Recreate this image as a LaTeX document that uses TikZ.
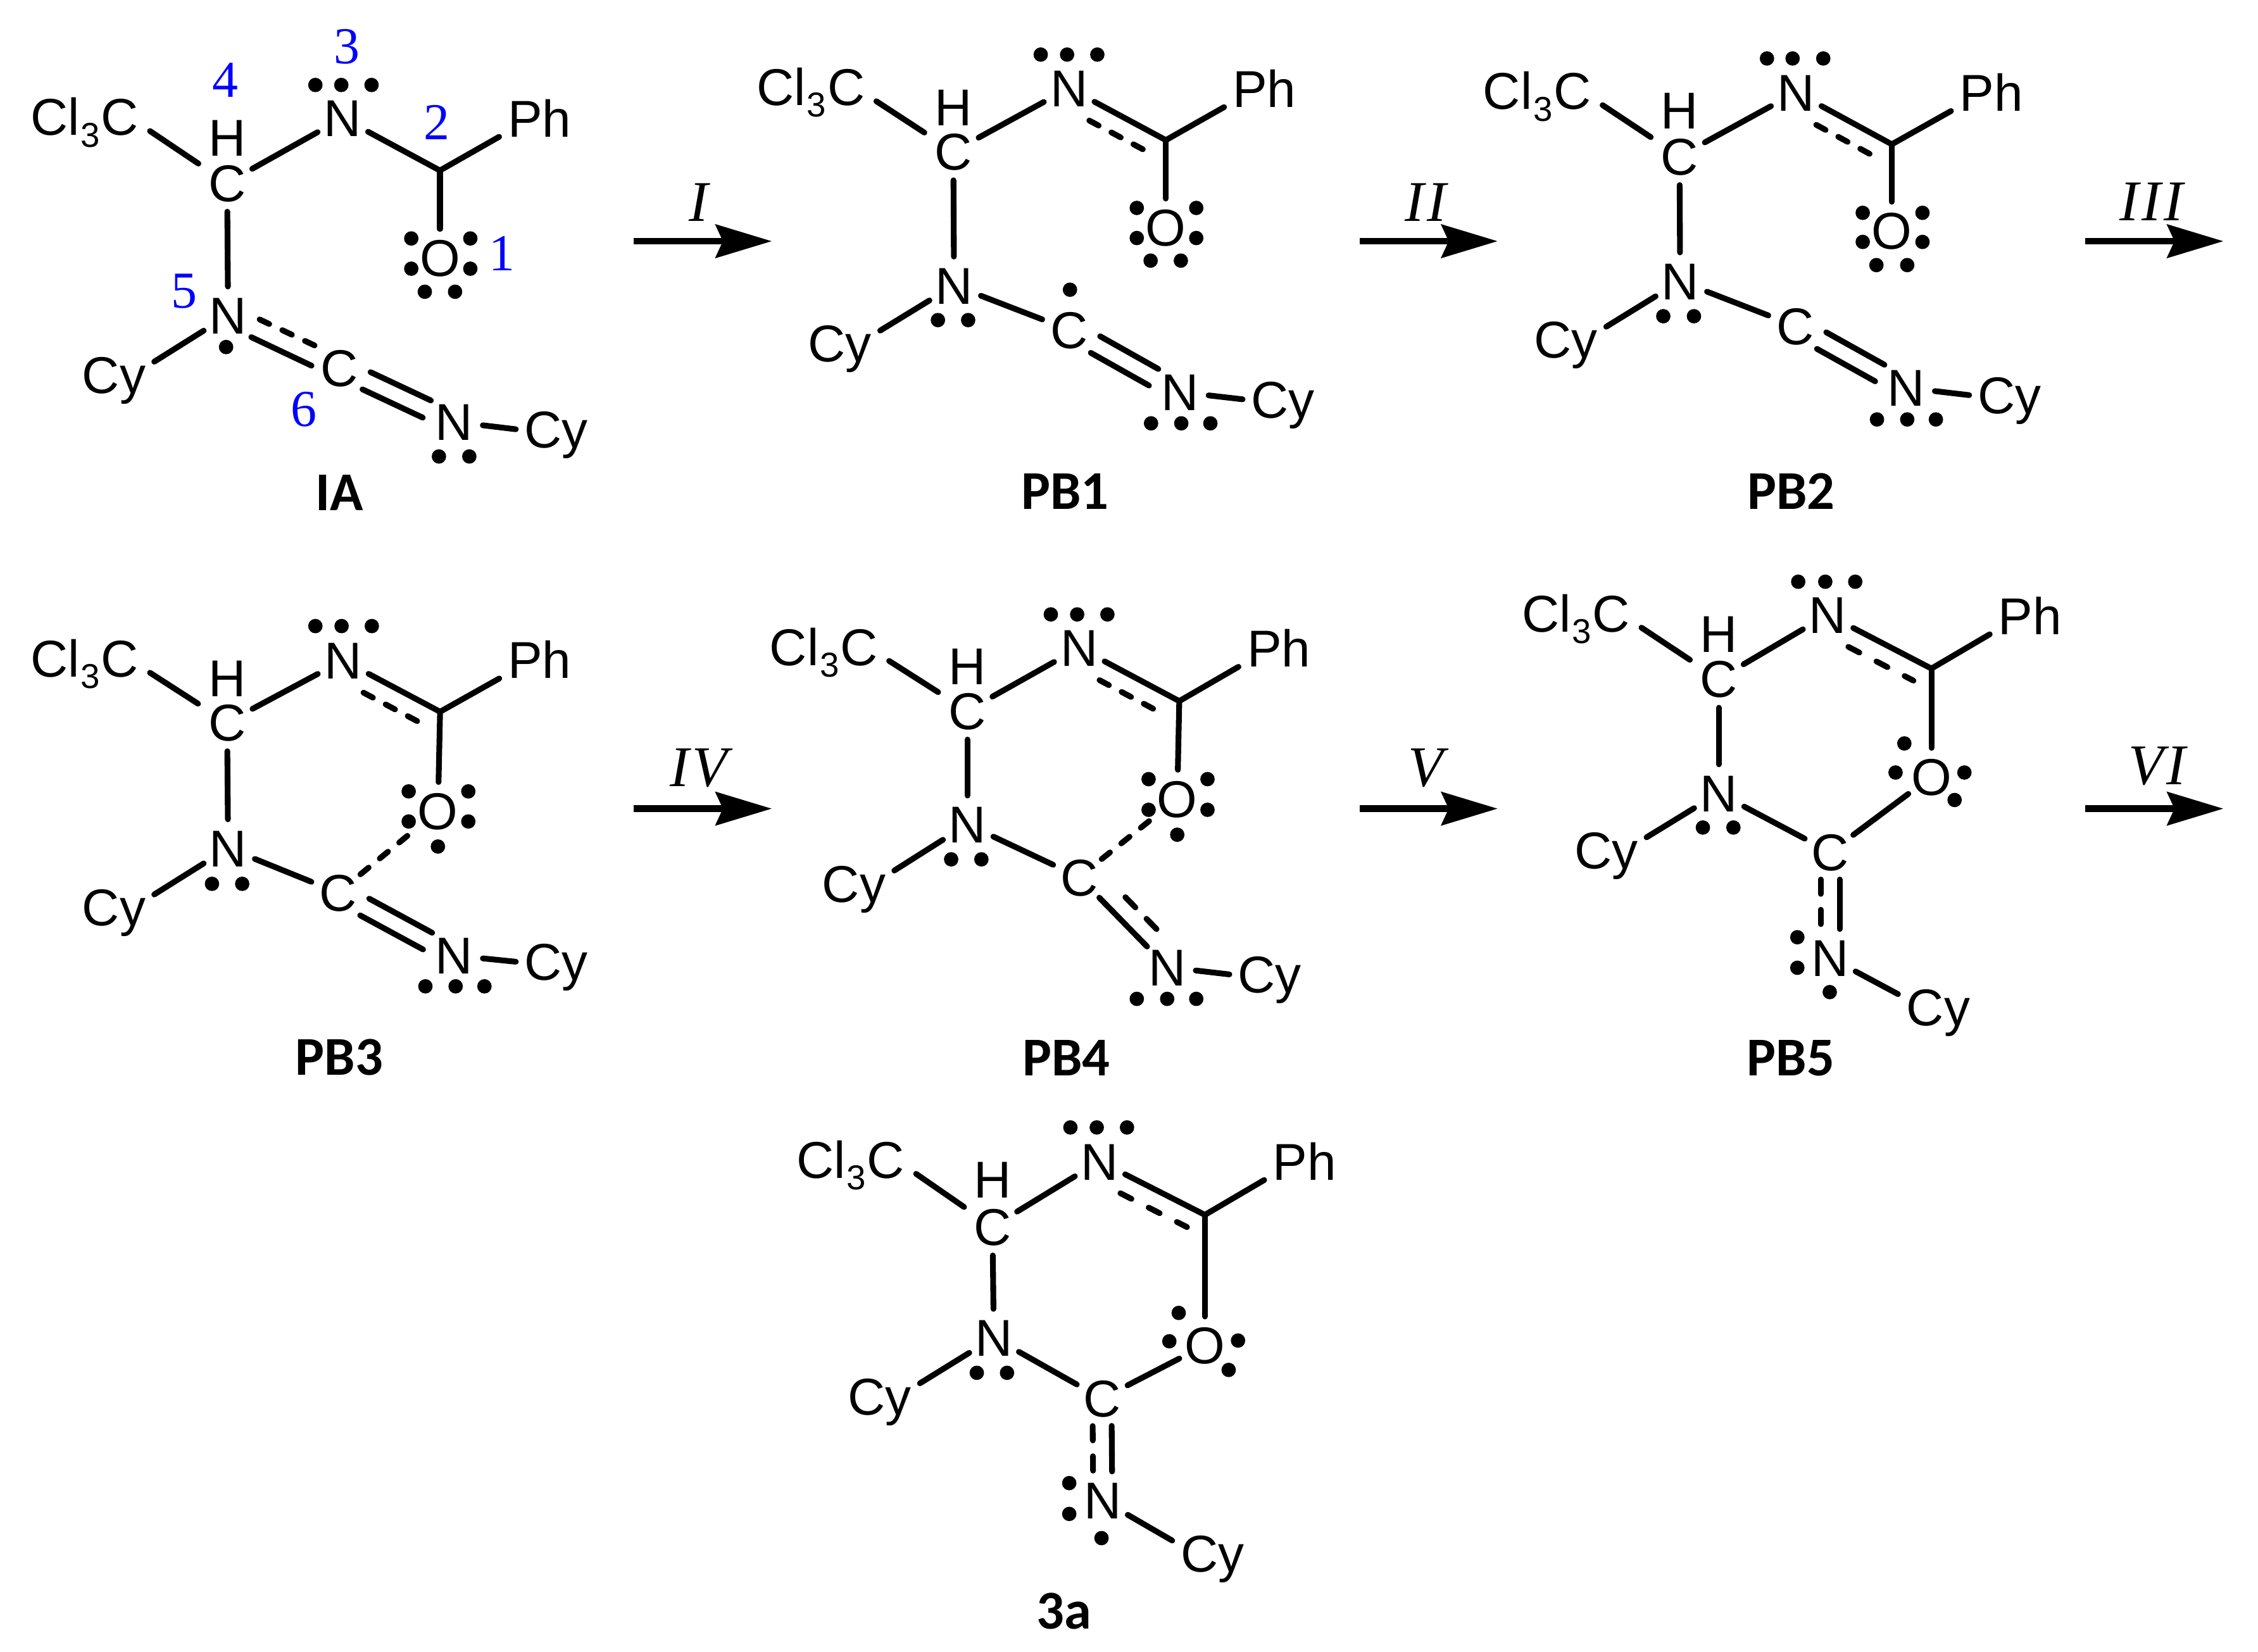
\documentclass[tikz,border=0pt]{standalone}
\usepackage{fontspec}
\setmainfont{Liberation Sans}
\newfontfamily\cplabel{Carlito}
\newfontfamily\numfont{Liberation Serif}
\newfontfamily\romfont[LetterSpace=5.0]{Liberation Serif}
\usetikzlibrary{calc,arrows.meta}
\tikzset{
  bond/.style={line width=2pt,line cap=round,black},
  dsh/.style={dash pattern=on 3.7pt off 5pt},
  dshwide/.style={dash pattern=on 4.3pt off 6.7pt},
  dshlong/.style={dash pattern=on 5pt off 5.5pt},
  atom/.style={circle,inner sep=0pt,outer sep=0pt,minimum size=20pt,text height=12.9pt,text depth=0pt,font=\fontsize{18}{18}\selectfont},
  grp/.style={rectangle,inner xsep=3pt,inner ysep=0pt,outer sep=0pt,text height=12.9pt,text depth=0pt,anchor=south west,font=\fontsize{18}{18}\selectfont},
  grpC/.style={grp,xshift=-3.9pt},
  grpP/.style={grp,xshift=-4.5pt},
  hatom/.style={inner sep=0pt,outer sep=0pt,text height=12.9pt,text depth=0pt,anchor=south,font=\fontsize{18}{18}\selectfont},
  lpdot/.style={fill=black},
  num/.style={inner sep=0pt,anchor=base,text=numblue,font=\numfont\fontsize{18}{18}\selectfont},
  stepname/.style={inner sep=0pt,anchor=base,font=\romfont\itshape\fontsize{20}{20}\selectfont},
  cpname/.style={inner sep=0pt,anchor=base,font=\cplabel\bfseries\fontsize{19}{19}\selectfont},
  rxn/.style={line width=2.3pt,-{Stealth[length=19.5pt,width=11.5pt,inset=2.5pt]}},
}
\definecolor{numblue}{RGB}{0,0,255}
\newcommand\clt{Cl\kern0.4pt\raisebox{-4pt}{\fontsize{12}{12}\selectfont 3}\kern0.4pt C}
\newcommand\bnd[3][]{\draw[bond,#1] (#2) -- (#3);}
\newcommand\offb[6][]{\draw[bond,#1,shorten <=#5,shorten >=#6] ($(#2)!#4!90:(#3)$) -- ($(#3)!#4!-90:(#2)$);}
\newcommand\dblb[2]{\offb{#1}{#2}{3.3pt}{10.5pt}{10.5pt}\offb{#1}{#2}{-3.3pt}{10.5pt}{10.5pt}}
\newcommand\lps[1]{\foreach \p in {#1} \fill[lpdot] \p circle[radius=2.5pt];}
\newcommand\skel[1]{%
  \draw[bond,shorten >=2pt] ([shift={(1pt,1.5pt)}]#1Cl.south east) -- (#1C);
  \bnd{#1C}{#1N}
  \bnd{#1C}{#1NL}
  \draw[bond] ([yshift=-2pt]#1CyL.north east) -- (#1NL);
  \bnd{#1J}{#1Ph.south west}
  \bnd{#1J}{#1O}
}
\newcommand\imine[2][dsh]{\bnd{#2N}{#2J}\offb[#1]{#2N}{#2J}{-6.6pt}{11.5pt}{3.6pt}}
\begin{document}
\begin{tikzpicture}[x=0.5pt,y=-0.5pt]
\useasboundingbox (0,0) rectangle (1568,1147.3);
\fill[white] (0,0) rectangle (1568,1147.3);

% ---------- IA
\node[atom] (aC) at (157.7,127) {C};
\node[atom] (aN) at (238,82) {N};
\coordinate (aJ) at (305.5,118.4);
\node[atom] (aO) at (305.5,179) {O};
\node[atom] (aNL) at (158.4,219) {N};
\node[atom] (aCL) at (235.5,255.5) {C};
\node[atom] (aNR) at (315.4,293) {N};
\node[hatom] (aH) at (157.7,108.4) {H};
\node[grpC] (aCl) at (23,94) {\clt};
\node[grpP] (aPh) at (355.6,95) {Ph};
\node[grpC] (aCyL) at (58.9,273) {Cy};
\node[grpC] (aCyR) at (366,311) {Cy};
\skel{a}
\bnd{aN}{aJ}
\offb[dsh]{aNL}{aCL}{3.4pt}{10.5pt}{9pt}
\offb{aNL}{aCL}{-3.4pt}{10.5pt}{9pt}
\dblb{aCL}{aNR}
\bnd{aNR}{aCyR.west}
\lps{(219,59),(237,59),(258,59),(285.6,165.6),(326.6,165.6),(285.6,186.6),(326.6,186.6),(295,202.6),(316,202.6),(157,241),(304.8,317),(325.9,317)}
\node[num] (n3) at (240.7,44) {3};
\node[num] (n4) at (156.6,67.4) {4};
\node[num] (n2) at (303.4,97) {2};
\node[num] (n1) at (348.6,188) {1};
\node[num] (n5) at (128,213.8) {5};
\node[num] (n6) at (211,296) {6};
\node[cpname] (lIA) at (235.5,354.6) {IA};

% ---------- PB1
\node[atom] (bC) at (662,105.2) {C};
\node[atom] (bN) at (742.4,61.2) {N};
\coordinate (bJ) at (809.6,97.3);
\node[atom] (bO) at (809.6,157.9) {O};
\node[atom] (bNL) at (662.5,198.2) {N};
\node[atom] (bCL) at (742.4,229) {C};
\node[atom] (bNR) at (819.4,272.3) {N};
\node[hatom] (bH) at (662,87.2) {H};
\node[grpC] (bCl) at (527.4,73.3) {\clt};
\node[grpP] (bPh) at (859,74.4) {Ph};
\node[grpC] (bCyL) at (563,251.4) {Cy};
\node[grpC] (bCyR) at (870.7,290.2) {Cy};
\skel{b}
\imine{b}
\bnd{bNL}{bCL}
\dblb{bCL}{bNR}
\bnd{bNR}{bCyR.west}
\lps{(722.7,37.9),(741,37.9),(762,37.9),(789.4,144.4),(830.7,144.4),(789.4,165.3),(830.7,165.3),(799,181),(820,181),(651.3,222.3),(672.3,222.3),(743,201.2),(799.3,294),(820.3,294),(840.5,294)}
\node[cpname] (lPB1) at (739.6,353.7) {PB1};

% ---------- PB2
\node[atom] (cC) at (1166.3,108.5) {C};
\node[atom] (cN) at (1247.3,64.1) {N};
\coordinate (cJ) at (1313.7,100.2);
\node[atom] (cO) at (1313.7,160.1) {O};
\node[atom] (cNL) at (1166.7,195.3) {N};
\node[atom] (cCL) at (1246.6,226.3) {C};
\node[atom] (cNR) at (1323.7,269.3) {N};
\node[hatom] (cH) at (1166.3,89.5) {H};
\node[grpC] (cCl) at (1031.7,76) {\clt};
\node[grpP] (cPh) at (1363.8,77.1) {Ph};
\node[grpC] (cCyL) at (1067.2,248.7) {Cy};
\node[grpC] (cCyR) at (1375.2,287.3) {Cy};
\skel{c}
\imine{c}
\bnd{cNL}{cCL}
\dblb{cCL}{cNR}
\bnd{cNR}{cCyR.west}
\lps{(1227,40.6),(1244.8,40.6),(1266.1,40.6),(1293.5,147.8),(1335,147.8),(1293.5,168),(1335,168),(1303,184.1),(1324.4,184.1),(1155,219.6),(1176.3,219.6),(1303.4,291.3),(1324.4,291.3),(1344.3,291.3)}
\node[cpname] (lPB2) at (1243.8,353.7) {PB2};

% ---------- PB3
\node[atom] (dC) at (157.7,501.7) {C};
\node[atom] (dN) at (238.3,458.6) {N};
\coordinate (dJ) at (305.6,494.3);
\node[atom] (dO) at (304.1,563.1) {O};
\node[atom] (dNL) at (158.4,589) {N};
\node[atom] (dCL) at (234.8,619.9) {C};
\node[atom] (dNR) at (315.4,663.6) {N};
\node[hatom] (dH) at (157.7,483.8) {H};
\node[grpC] (dCl) at (23,470.2) {\clt};
\node[grpP] (dPh) at (355.7,471.2) {Ph};
\node[grpC] (dCyL) at (58.9,643) {Cy};
\node[grpC] (dCyR) at (366,680.8) {Cy};
\skel{d}
\imine{d}
\bnd{dNL}{dCL}
\bnd[dsh]{dCL}{dO}
\dblb{dCL}{dNR}
\bnd{dNR}{dCyR.west}
\lps{(219,434.8),(237.2,434.8),(258.2,434.8),(283.8,549.6),(325.2,549.6),(283.8,570.5),(325.2,570.5),(304.1,587.9),(147.2,613.8),(168.2,613.8),(295.4,685),(316.4,685),(336.4,685)}
\node[cpname] (lPB3) at (235.5,746.5) {PB3};

% ---------- PB4
\node[atom] (eC) at (671.7,493.6) {C};
\node[atom] (eN) at (749.4,449.9) {N};
\coordinate (eJ) at (818.9,486.9);
\node[atom] (eO) at (817.5,554.6) {O};
\node[atom] (eNL) at (671.7,572.5) {N};
\node[atom] (eCL) at (749.4,609.1) {C};
\node[atom] (eNR) at (810.5,671.7) {N};
\node[hatom] (eH) at (671.7,475.6) {H};
\node[grpC] (eCl) at (536.3,462) {\clt};
\node[grpP] (ePh) at (869,463.1) {Ph};
\node[grpC] (eCyL) at (572.8,626.4) {Cy};
\node[grpC] (eCyR) at (861.5,689.6) {Cy};
\skel{e}
\imine{e}
\bnd{eNL}{eCL}
\bnd[dsh]{eCL}{eO}
\bnd{eCL}{eNR}
\offb[dshlong]{eCL}{eNR}{6.6pt}{16.2pt}{12pt}
\bnd{eNR}{eCyR.west}
\lps{(729.7,426.7),(748,426.7),(769,426.7),(797.6,541.1),(838.5,541.1),(797.6,562.4),(838.5,562.4),(817.5,579.7),(660.5,596.8),(681.5,596.8),(789.4,693.7),(810.5,693.7),(830.7,693.7)}
\node[cpname] (lPB4) at (740.4,747) {PB4};

% ---------- PB5
\node[atom] (fC) at (1193.5,471.5) {C};
\node[atom] (fN) at (1269.2,426.9) {N};
\coordinate (fJ) at (1341.2,464.3);
\node[atom] (fO) at (1341.2,539.4) {O};
\node[atom] (fNL) at (1193.5,550.8) {N};
\node[atom] (fCL) at (1270.9,591.8) {C};
\node[atom] (fNR) at (1270.9,665.2) {N};
\node[hatom] (fH) at (1193.5,452.9) {H};
\node[grpC] (fCl) at (1058.7,438.9) {\clt};
\node[grpP] (fPh) at (1390.7,440.5) {Ph};
\node[grpC] (fCyL) at (1095.2,603.3) {Cy};
\node[grpC] (fCyR) at (1325.8,712.2) {Cy};
\skel{f}
\imine[dshwide]{f}
\bnd{fNL}{fCL}
\bnd{fCL}{fO}
\offb[dshlong]{fCL}{fNR}{-3.3pt}{9.5pt}{10pt}
\offb{fCL}{fNR}{3.3pt}{9.5pt}{10pt}
\draw[bond] ([yshift=-2pt]fCyR.north west) -- (fNR);
\lps{(1248.7,404),(1267.5,404),(1288.3,404),(1322.4,516.3),(1316.3,536.5),(1364.1,536.5),(1357.3,555.6),(1182.5,574.7),(1203.7,574.7),(1248.1,650.9),(1248.1,672.1),(1270.6,689)}
\node[cpname] (lPB5) at (1243.6,747.2) {PB5};

% ---------- 3a
\node[atom] (gC) at (689.2,851.9) {C};
\node[atom] (gN) at (763.5,806.5) {N};
\coordinate (gJ) at (836.7,843.7);
\node[atom] (gO) at (836.7,934.3) {O};
\node[atom] (gNL) at (690.1,929) {N};
\node[atom] (gCL) at (765.2,971.3) {C};
\node[atom] (gNR) at (765.8,1042) {N};
\node[hatom] (gH) at (689.2,832) {H};
\node[grpC] (gCl) at (555,818.2) {\clt};
\node[grpP] (gPh) at (886.9,819.5) {Ph};
\node[grpC] (gCyL) at (590.6,982.5) {Cy};
\node[grpC] (gCyR) at (821.8,1091.7) {Cy};
\skel{g}
\imine[dshwide]{g}
\bnd{gNL}{gCL}
\bnd{gCL}{gO}
\offb[dshlong]{gCL}{gNR}{-3.3pt}{9.5pt}{10pt}
\offb{gCL}{gNR}{3.3pt}{9.5pt}{10pt}
\draw[bond] ([yshift=-2pt]gCyR.north west) -- (gNR);
\lps{(743.3,783),(761.6,783),(782.6,783),(818.5,911.8),(812,931.5),(859.7,931),(853.2,951.4),(678.3,953.4),(699.3,953.4),(742.5,1030),(742.5,1051.4),(764.9,1068.2)}
\node[cpname] (l3a) at (739,1131.2) {3a};

% ---------- reaction arrows
\coordinate (r1s) at (440,167.5); \coordinate (r1e) at (536,167.5);
\coordinate (r2s) at (944,167.5); \coordinate (r2e) at (1040,167.5);
\coordinate (r3s) at (1448,167.5); \coordinate (r3e) at (1544,167.5);
\coordinate (r4s) at (440,561.6); \coordinate (r4e) at (536,561.6);
\coordinate (r5s) at (944,561.6); \coordinate (r5e) at (1040,561.6);
\coordinate (r6s) at (1448,561.6); \coordinate (r6e) at (1544,561.6);
\foreach \i in {1,...,6} \draw[rxn] (r\i s) -- (r\i e);
\node[stepname] (s1) at (485.3,153.7) {I};
\node[stepname] (s2) at (990,153.7) {II};
\node[stepname] (s3) at (1494,153) {III};
\node[stepname] (s4) at (485.3,546.3) {IV};
\node[stepname] (s5) at (990,546.3) {V};
\node[stepname] (s6) at (1497.8,545) {VI};
\end{tikzpicture}
\end{document}
